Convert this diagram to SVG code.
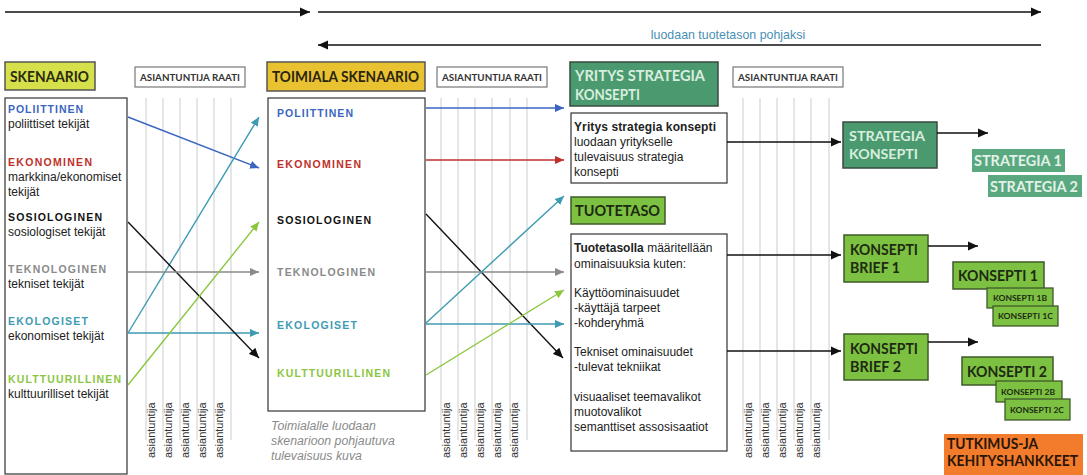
<svg xmlns="http://www.w3.org/2000/svg" width="1087" height="475" viewBox="0 0 1087 475">
  <defs>
    <style>
      .hdr { font-family: Lato, "Open Sans", "DejaVu Sans", sans-serif; font-weight: 700; }
      .panel { font-family: Lato, "Open Sans", "DejaVu Sans", sans-serif; font-weight: 700; font-size: 10px; fill: #333; }
      .cat { font-family: "Liberation Sans", Arial, sans-serif; font-weight: 700; font-size: 10.5px; }
      .body { font-family: "Liberation Sans", Arial, sans-serif; font-size: 12px; fill: #222; }
      .bold { font-weight: 700; }
      .caption { font-family: "Liberation Sans", Arial, sans-serif; font-size: 12.3px; font-style: italic; fill: #8a8a8a; }
      .vlabel { font-family: "Liberation Sans", Arial, sans-serif; font-size: 11px; fill: #333; }
      .guide { stroke: #c9cdd1; stroke-width: 1; }
      .frame { fill: #fff; stroke: #333; stroke-width: 1.2; }
      .raati { fill: #fff; stroke: #777; stroke-width: 1.2; }
      .c-blue { fill: #3a66c0; }
      .c-red { fill: #c0302a; }
      .c-black { fill: #111; }
      .c-gray { fill: #8a8a8a; }
      .c-teal { fill: #3e9bb3; }
      .c-green { fill: #8cc63f; }
      .conn line { stroke-width: 1.4; fill: none; }
    </style>
    <marker id="ah-black" viewBox="0 0 10 10" refX="10" refY="5" markerWidth="10" markerHeight="10" markerUnits="userSpaceOnUse" orient="auto"><path d="M0,0.5 L10,5 L0,9.5 z" fill="#111"/></marker>
    <marker id="ah-blue" viewBox="0 0 10 10" refX="10" refY="5" markerWidth="9" markerHeight="9" markerUnits="userSpaceOnUse" orient="auto"><path d="M0,0.5 L10,5 L0,9.5 z" fill="#3a66c0"/></marker>
    <marker id="ah-red" viewBox="0 0 10 10" refX="10" refY="5" markerWidth="9" markerHeight="9" markerUnits="userSpaceOnUse" orient="auto"><path d="M0,0.5 L10,5 L0,9.5 z" fill="#c0302a"/></marker>
    <marker id="ah-gray" viewBox="0 0 10 10" refX="10" refY="5" markerWidth="9" markerHeight="9" markerUnits="userSpaceOnUse" orient="auto"><path d="M0,0.5 L10,5 L0,9.5 z" fill="#8a8a8a"/></marker>
    <marker id="ah-teal" viewBox="0 0 10 10" refX="10" refY="5" markerWidth="9" markerHeight="9" markerUnits="userSpaceOnUse" orient="auto"><path d="M0,0.5 L10,5 L0,9.5 z" fill="#3e9bb3"/></marker>
    <marker id="ah-green" viewBox="0 0 10 10" refX="10" refY="5" markerWidth="9" markerHeight="9" markerUnits="userSpaceOnUse" orient="auto"><path d="M0,0.5 L10,5 L0,9.5 z" fill="#8cc63f"/></marker>
  </defs>

  <rect width="1087" height="475" fill="#fff"/>

  <!-- expert panel guide lines with rotated labels -->
  <g id="panel-1-guides">
    <g class="guide">
      <line x1="146" y1="98" x2="146" y2="440"/><line x1="163" y1="98" x2="163" y2="440"/>
      <line x1="180" y1="98" x2="180" y2="440"/><line x1="197" y1="98" x2="197" y2="440"/>
      <line x1="214" y1="98" x2="214" y2="440"/><line x1="231" y1="98" x2="231" y2="440"/>
    </g>
    <text class="vlabel" transform="translate(155,458) rotate(-90)">asiantuntija</text>
    <text class="vlabel" transform="translate(172,458) rotate(-90)">asiantuntija</text>
    <text class="vlabel" transform="translate(189,458) rotate(-90)">asiantuntija</text>
    <text class="vlabel" transform="translate(206,458) rotate(-90)">asiantuntija</text>
    <text class="vlabel" transform="translate(223,458) rotate(-90)">asiantuntija</text>
  </g>
  <g id="panel-2-guides">
    <g class="guide">
      <line x1="441" y1="98" x2="441" y2="440"/><line x1="458" y1="98" x2="458" y2="440"/>
      <line x1="475" y1="98" x2="475" y2="440"/><line x1="492" y1="98" x2="492" y2="440"/>
      <line x1="510" y1="98" x2="510" y2="440"/><line x1="527" y1="98" x2="527" y2="440"/>
    </g>
    <text class="vlabel" transform="translate(450,458) rotate(-90)">asiantuntija</text>
    <text class="vlabel" transform="translate(467,458) rotate(-90)">asiantuntija</text>
    <text class="vlabel" transform="translate(484,458) rotate(-90)">asiantuntija</text>
    <text class="vlabel" transform="translate(501,458) rotate(-90)">asiantuntija</text>
    <text class="vlabel" transform="translate(518,458) rotate(-90)">asiantuntija</text>
  </g>
  <g id="panel-3-guides">
    <g class="guide">
      <line x1="743" y1="98" x2="743" y2="440"/><line x1="760" y1="98" x2="760" y2="440"/>
      <line x1="777" y1="98" x2="777" y2="440"/><line x1="794" y1="98" x2="794" y2="440"/>
      <line x1="811" y1="98" x2="811" y2="440"/><line x1="829" y1="98" x2="829" y2="440"/>
    </g>
    <text class="vlabel" transform="translate(752,458) rotate(-90)">asiantuntija</text>
    <text class="vlabel" transform="translate(769,458) rotate(-90)">asiantuntija</text>
    <text class="vlabel" transform="translate(786,458) rotate(-90)">asiantuntija</text>
    <text class="vlabel" transform="translate(803,458) rotate(-90)">asiantuntija</text>
    <text class="vlabel" transform="translate(820,458) rotate(-90)">asiantuntija</text>
  </g>

  <!-- top flow arrows -->
  <g id="flow-label">
    <text x="728" y="39" text-anchor="middle" font-family="'Liberation Sans', Arial, sans-serif" font-size="12.4" fill="#4a8fb5">luodaan tuotetason pohjaksi</text>
  </g>

  <!-- header boxes -->
  <g id="skenaario">
    <rect x="5" y="62" width="90" height="28" fill="#d6e04b" stroke="#555" stroke-width="1.5"/>
    <text class="hdr" x="10" y="82" font-size="15" fill="#2a2a10" textLength="79" lengthAdjust="spacingAndGlyphs">SKENAARIO</text>
  </g>
  <g id="raati-1">
    <rect class="raati" x="135" y="67" width="110" height="20"/>
    <text class="panel" x="140" y="81" textLength="100" lengthAdjust="spacingAndGlyphs">ASIANTUNTIJA RAATI</text>
  </g>
  <g id="toimiala-skenaario">
    <rect x="267" y="62" width="158" height="29" fill="#e9c232" stroke="#555" stroke-width="1.5"/>
    <text class="hdr" x="272" y="82" font-size="15.5" fill="#2a2410" textLength="147" lengthAdjust="spacingAndGlyphs">TOIMIALA SKENAARIO</text>
  </g>
  <g id="raati-2">
    <rect class="raati" x="437" y="67" width="110" height="20"/>
    <text class="panel" x="442" y="81" textLength="100" lengthAdjust="spacingAndGlyphs">ASIANTUNTIJA RAATI</text>
  </g>
  <g id="yritys-strategia">
    <rect x="570" y="62" width="148" height="44" fill="#4b9a6f" stroke="#3a4a40" stroke-width="1.5"/>
    <text class="hdr" x="575" y="81" font-size="14.5" fill="#d8eedf" textLength="130" lengthAdjust="spacingAndGlyphs">YRITYS STRATEGIA</text>
    <text class="hdr" x="575" y="100" font-size="14.5" fill="#d8eedf" textLength="65" lengthAdjust="spacingAndGlyphs">KONSEPTI</text>
  </g>
  <g id="raati-3">
    <rect class="raati" x="733" y="67" width="110" height="20"/>
    <text class="panel" x="738" y="81" textLength="100" lengthAdjust="spacingAndGlyphs">ASIANTUNTIJA RAATI</text>
  </g>

  <!-- scenario factor list -->
  <g id="skenaario-factors">
    <rect class="frame" x="5" y="98" width="122" height="376"/>
    <text class="cat c-blue" x="8" y="113" textLength="75" lengthAdjust="spacing">POLIITTINEN</text>
    <text class="body" x="8" y="128">poliittiset tekijät</text>
    <text class="cat c-red" x="8" y="166" textLength="84" lengthAdjust="spacing">EKONOMINEN</text>
    <text class="body" x="8" y="181">markkina/ekonomiset</text>
    <text class="body" x="8" y="196">tekijät</text>
    <text class="cat c-black" x="8" y="221" textLength="94" lengthAdjust="spacing">SOSIOLOGINEN</text>
    <text class="body" x="8" y="236">sosiologiset tekijät</text>
    <text class="cat c-gray" x="8" y="273" textLength="98" lengthAdjust="spacing">TEKNOLOGINEN</text>
    <text class="body" x="8" y="288">tekniset tekijät</text>
    <text class="cat c-teal" x="8" y="325" textLength="80" lengthAdjust="spacing">EKOLOGISET</text>
    <text class="body" x="8" y="340">ekonomiset tekijät</text>
    <text class="cat c-green" x="8" y="383" textLength="113" lengthAdjust="spacing">KULTTUURILLINEN</text>
    <text class="body" x="8" y="398">kulttuurilliset tekijät</text>
  </g>

  <!-- industry scenario factor list -->
  <g id="toimiala-factors">
    <rect class="frame" x="268" y="98" width="157" height="313"/>
    <text class="cat c-blue" x="277" y="117" textLength="76" lengthAdjust="spacing">POLIITTINEN</text>
    <text class="cat c-red" x="277" y="168" textLength="84" lengthAdjust="spacing">EKONOMINEN</text>
    <text class="cat c-black" x="277" y="224" textLength="94" lengthAdjust="spacing">SOSIOLOGINEN</text>
    <text class="cat c-gray" x="277" y="276" textLength="98" lengthAdjust="spacing">TEKNOLOGINEN</text>
    <text class="cat c-teal" x="277" y="329" textLength="80" lengthAdjust="spacing">EKOLOGISET</text>
    <text class="cat c-green" x="277" y="377" textLength="113" lengthAdjust="spacing">KULTTUURILLINEN</text>
    <text class="caption" x="271" y="430">Toimialalle luodaan</text>
    <text class="caption" x="271" y="445">skenarioon pohjautuva</text>
    <text class="caption" x="271" y="460">tulevaisuus kuva</text>
  </g>

  <!-- company strategy description -->
  <g id="yritys-kuvaus">
    <rect class="frame" x="571" y="113" width="156" height="70"/>
    <text class="body bold" x="574" y="131" textLength="142" lengthAdjust="spacing">Yritys strategia konsepti</text>
    <text class="body" x="574" y="146">luodaan yritykselle</text>
    <text class="body" x="574" y="161">tulevaisuus strategia</text>
    <text class="body" x="574" y="176">konsepti</text>
  </g>

  <g id="tuotetaso">
    <rect x="571" y="197" width="94" height="27" fill="#7cc142" stroke="#3f5a2a" stroke-width="1.5"/>
    <text class="hdr" x="575" y="216" font-size="16" fill="#1e2a12" textLength="85" lengthAdjust="spacingAndGlyphs">TUOTETASO</text>
  </g>

  <!-- product level description -->
  <g id="tuotetaso-kuvaus">
    <rect class="frame" x="571" y="234" width="156" height="217"/>
    <text class="body" x="574" y="252"><tspan class="bold">Tuotetasolla</tspan> määritellään</text>
    <text class="body" x="574" y="268">ominaisuuksia kuten:</text>
    <text class="body" x="574" y="297">Käyttöominaisuudet</text>
    <text class="body" x="574" y="312">-käyttäjä tarpeet</text>
    <text class="body" x="574" y="327">-kohderyhmä</text>
    <text class="body" x="574" y="356">Tekniset ominaisuudet</text>
    <text class="body" x="574" y="371">-tulevat tekniikat</text>
    <text class="body" x="574" y="401">visuaaliset teemavalikot</text>
    <text class="body" x="574" y="416">muotovalikot</text>
    <text class="body" x="574" y="431">semanttiset assosisaatiot</text>
  </g>

  <!-- strategy outputs -->
  <g id="strategia-konsepti">
    <rect x="843" y="122" width="94" height="46" fill="#4b9a6f" stroke="#3a4a40" stroke-width="1.5"/>
    <text class="hdr" x="849" y="141" font-size="14" fill="#d8eedf" textLength="76" lengthAdjust="spacingAndGlyphs">STRATEGIA</text>
    <text class="hdr" x="849" y="159" font-size="14" fill="#d8eedf" textLength="69" lengthAdjust="spacingAndGlyphs">KONSEPTI</text>
  </g>
  <g id="strategia-1">
    <rect x="972" y="149" width="93" height="23" fill="#5aa880"/>
    <text class="hdr" x="974" y="166" font-size="15" fill="#e2f2e8" textLength="88" lengthAdjust="spacingAndGlyphs">STRATEGIA 1</text>
  </g>
  <g id="strategia-2">
    <rect x="988" y="175" width="94" height="22" fill="#5aa880"/>
    <text class="hdr" x="990" y="192" font-size="15" fill="#e2f2e8" textLength="88" lengthAdjust="spacingAndGlyphs">STRATEGIA 2</text>
  </g>

  <!-- concept briefs and concepts -->
  <g id="konsepti-brief-1">
    <rect x="844" y="235" width="84" height="47" fill="#7cc142" stroke="#3f5a2a" stroke-width="1.5"/>
    <text class="hdr" x="850" y="255" font-size="14.5" fill="#1e2a12" textLength="68" lengthAdjust="spacingAndGlyphs">KONSEPTI</text>
    <text class="hdr" x="850" y="273" font-size="14.5" fill="#1e2a12" textLength="50" lengthAdjust="spacingAndGlyphs">BRIEF 1</text>
  </g>
  <g id="konsepti-1">
    <rect x="953" y="262" width="91" height="27" fill="#7cc142" stroke="#3f5a2a" stroke-width="1.5"/>
    <text class="hdr" x="958" y="281" font-size="15" fill="#1e2a12" textLength="80" lengthAdjust="spacingAndGlyphs">KONSEPTI 1</text>
  </g>
  <g id="konsepti-1b">
    <rect x="987" y="288" width="66" height="20" fill="#7cc142" stroke="#3f5a2a" stroke-width="1.3"/>
    <text class="hdr" x="993" y="301" font-size="8" fill="#1e2a12" textLength="54" lengthAdjust="spacingAndGlyphs">KONSEPTI 1B</text>
  </g>
  <g id="konsepti-1c">
    <rect x="993" y="306" width="65" height="20" fill="#7cc142" stroke="#3f5a2a" stroke-width="1.3"/>
    <text class="hdr" x="998" y="319" font-size="8" fill="#1e2a12" textLength="55" lengthAdjust="spacingAndGlyphs">KONSEPTI 1C</text>
  </g>
  <g id="konsepti-brief-2">
    <rect x="844" y="334" width="84" height="46" fill="#7cc142" stroke="#3f5a2a" stroke-width="1.5"/>
    <text class="hdr" x="850" y="354" font-size="14.5" fill="#1e2a12" textLength="68" lengthAdjust="spacingAndGlyphs">KONSEPTI</text>
    <text class="hdr" x="850" y="372" font-size="14.5" fill="#1e2a12" textLength="51" lengthAdjust="spacingAndGlyphs">BRIEF 2</text>
  </g>
  <g id="konsepti-2">
    <rect x="962" y="357" width="91" height="28" fill="#7cc142" stroke="#3f5a2a" stroke-width="1.5"/>
    <text class="hdr" x="967" y="377" font-size="15" fill="#1e2a12" textLength="80" lengthAdjust="spacingAndGlyphs">KONSEPTI 2</text>
  </g>
  <g id="konsepti-2b">
    <rect x="996" y="381" width="66" height="21" fill="#7cc142" stroke="#3f5a2a" stroke-width="1.3"/>
    <text class="hdr" x="1001" y="395" font-size="8" fill="#1e2a12" textLength="54" lengthAdjust="spacingAndGlyphs">KONSEPTI 2B</text>
  </g>
  <g id="konsepti-2c">
    <rect x="1005" y="399" width="65" height="21" fill="#7cc142" stroke="#3f5a2a" stroke-width="1.3"/>
    <text class="hdr" x="1010" y="413" font-size="8" fill="#1e2a12" textLength="54" lengthAdjust="spacingAndGlyphs">KONSEPTI 2C</text>
  </g>

  <g id="tutkimus">
    <rect x="944" y="434" width="139" height="41" fill="#f37c2c"/>
    <text class="hdr" x="947" y="449" font-size="15" fill="#2a1608" textLength="91" lengthAdjust="spacingAndGlyphs">TUTKIMUS-JA</text>
    <text class="hdr" x="947" y="466" font-size="15" fill="#2a1608" textLength="131" lengthAdjust="spacingAndGlyphs">KEHITYSHANKKEET</text>
  </g>

  <!-- connectors -->
  <g id="connectors" class="conn">
    <line x1="5" y1="12" x2="310" y2="12" stroke="#111" marker-end="url(#ah-black)"/>
    <line x1="318" y1="12" x2="1041" y2="12" stroke="#111" marker-end="url(#ah-black)"/>
    <line x1="1041" y1="45" x2="318" y2="45" stroke="#111" marker-end="url(#ah-black)"/>

    <line x1="128" y1="117" x2="259" y2="168" stroke="#3a66c0" marker-end="url(#ah-blue)"/>
    <line x1="128" y1="333" x2="259" y2="117" stroke="#3e9bb3" marker-end="url(#ah-teal)"/>
    <line x1="128" y1="333" x2="259" y2="333" stroke="#3e9bb3" marker-end="url(#ah-teal)"/>
    <line x1="128" y1="222" x2="259" y2="358" stroke="#111" marker-end="url(#ah-black)"/>
    <line x1="128" y1="272" x2="259" y2="272" stroke="#8a8a8a" marker-end="url(#ah-gray)"/>
    <line x1="128" y1="385" x2="259" y2="222" stroke="#8cc63f" marker-end="url(#ah-green)"/>

    <line x1="426" y1="108" x2="564" y2="108" stroke="#3a66c0" marker-end="url(#ah-blue)"/>
    <line x1="426" y1="160" x2="564" y2="160" stroke="#c0302a" marker-end="url(#ah-red)"/>
    <line x1="426" y1="214" x2="563" y2="358" stroke="#111" marker-end="url(#ah-black)"/>
    <line x1="426" y1="272" x2="564" y2="272" stroke="#8a8a8a" marker-end="url(#ah-gray)"/>
    <line x1="426" y1="323" x2="564" y2="196" stroke="#3e9bb3" marker-end="url(#ah-teal)"/>
    <line x1="426" y1="324" x2="564" y2="324" stroke="#3e9bb3" marker-end="url(#ah-teal)"/>
    <line x1="426" y1="375" x2="564" y2="290" stroke="#8cc63f" marker-end="url(#ah-green)"/>

    <line x1="727" y1="142" x2="841" y2="142" stroke="#111" marker-end="url(#ah-black)"/>
    <line x1="727" y1="255" x2="841" y2="255" stroke="#111" marker-end="url(#ah-black)"/>
    <line x1="727" y1="351" x2="841" y2="351" stroke="#111" marker-end="url(#ah-black)"/>
    <line x1="937" y1="133" x2="988" y2="133" stroke="#111" marker-end="url(#ah-black)"/>
    <line x1="928" y1="246" x2="978" y2="246" stroke="#111" marker-end="url(#ah-black)"/>
    <line x1="928" y1="342" x2="978" y2="342" stroke="#111" marker-end="url(#ah-black)"/>
  </g>
</svg>
